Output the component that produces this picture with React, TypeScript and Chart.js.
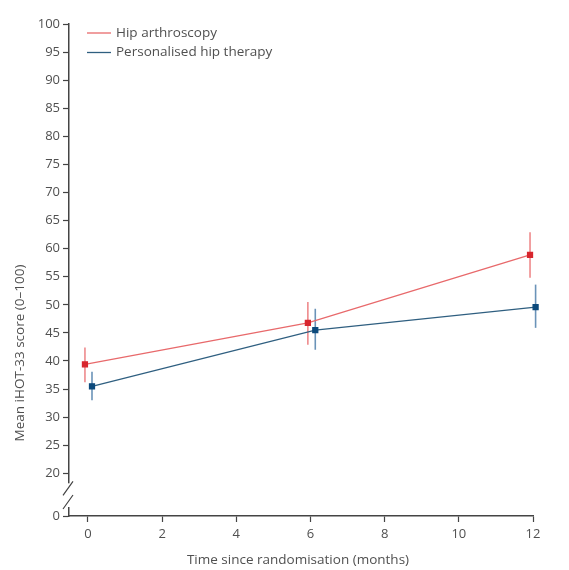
import React, { useEffect, useRef } from "react";
import { Chart, registerables } from "chart.js";

Chart.register(...registerables);

// ---- data ----
const xTicks = [0, 2, 4, 6, 8, 10, 12];
const yTicks = [20, 25, 30, 35, 40, 45, 50, 55, 60, 65, 70, 75, 80, 85, 90, 95, 100];
const Y_BREAK_MIN = 12.4; // internal position of the "0" tick below the axis break

const arthroscopyTime = [-0.08, 5.93, 11.92];
const arthroscopyMean = [39.4, 46.8, 58.9];
const arthroscopyLow = [36.2, 42.9, 54.8];
const arthroscopyHigh = [42.4, 50.5, 62.9];

const therapyTime = [0.11, 6.13, 12.07];
const therapyMean = [35.5, 45.5, 49.6];
const therapyLow = [33.0, 42.0, 45.9];
const therapyHigh = [38.1, 49.3, 53.6];

const seriesNames = ["Hip arthroscopy", "Personalised hip therapy"];
const xTitle = "Time since randomisation (months)";
const yTitle = "Mean iHOT-33 score (0–100)";

const RED_LINE = "#e8696b";
const RED_PT = "#d8262e";
const RED_ERR = "#ee8a8c";
const BLUE_LINE = "#2f5f80";
const BLUE_PT = "#0c4a7c";
const BLUE_ERR = "#6a93b8";
const AXIS = "#444444";
const TEXT = "#505050";
const FONT = "'Open Sans', sans-serif";

export default function App() {
  const ref = useRef<HTMLCanvasElement | null>(null);

  useEffect(() => {
    if (!ref.current) return;
    const errPlugin = {
      id: "errBars",
      beforeDatasetsDraw(chart: any) {
        const { ctx } = chart;
        const xs = chart.scales.x;
        const ys = chart.scales.y;
        const sets = [
          { t: arthroscopyTime, lo: arthroscopyLow, hi: arthroscopyHigh, c: RED_ERR },
          { t: therapyTime, lo: therapyLow, hi: therapyHigh, c: BLUE_ERR },
        ];
        ctx.save();
        for (const s of sets) {
          ctx.strokeStyle = s.c;
          ctx.lineWidth = 1.6;
          s.t.forEach((t, i) => {
            const x = xs.getPixelForValue(t);
            ctx.beginPath();
            ctx.moveTo(x, ys.getPixelForValue(s.lo[i]));
            ctx.lineTo(x, ys.getPixelForValue(s.hi[i]));
            ctx.stroke();
          });
        }
        ctx.restore();
      },
      afterDraw(chart: any) {
        const { ctx, chartArea } = chart;
        const ys = chart.scales.y;
        const x0 = chartArea.left;
        const y20 = ys.getPixelForValue(20);
        const y0 = ys.getPixelForValue(Y_BREAK_MIN);
        ctx.save();
        // axis break
        const gTop = y20 + 10;
        const gBot = y0 - 9;
        ctx.fillStyle = "#ffffff";
        ctx.fillRect(x0 - 3, gTop, 6, gBot - gTop);
        ctx.strokeStyle = AXIS;
        ctx.lineWidth = 1.2;
        ctx.beginPath();
        ctx.moveTo(x0 - 6, gTop + 12);
        ctx.lineTo(x0 + 4, gTop - 2);
        ctx.moveTo(x0 - 6, gBot + 2);
        ctx.lineTo(x0 + 4, gBot - 12);
        ctx.stroke();
        // legend
        const items = [
          { c: RED_LINE, t: seriesNames[0] },
          { c: BLUE_LINE, t: seriesNames[1] },
        ];
        ctx.font = `13.5px ${FONT}`;
        ctx.textBaseline = "middle";
        ctx.textAlign = "left";
        items.forEach((it, i) => {
          const y = 33 + i * 19.5;
          ctx.strokeStyle = it.c;
          ctx.lineWidth = 1.3;
          ctx.beginPath();
          ctx.moveTo(87, y);
          ctx.lineTo(111, y);
          ctx.stroke();
          ctx.fillStyle = TEXT;
          ctx.fillText(it.t, 116, y);
        });
        // titles
        ctx.font = `13.5px ${FONT}`;
        ctx.fillStyle = TEXT;
        ctx.textAlign = "center";
        ctx.fillText(xTitle, 298, 560);
        ctx.translate(20, 353);
        ctx.rotate(-Math.PI / 2);
        ctx.fillText(yTitle, 0, 0);
        ctx.restore();
      },
    };

    const chart = new Chart(ref.current, {
      type: "scatter",
      data: {
        datasets: [
          {
            label: seriesNames[0],
            data: arthroscopyTime.map((t, i) => ({ x: t, y: arthroscopyMean[i] })),
            showLine: true,
            borderColor: RED_LINE,
            borderWidth: 1.3,
            backgroundColor: RED_PT,
            pointBackgroundColor: RED_PT,
            pointBorderColor: RED_PT,
            pointStyle: "rect",
            pointRadius: 3.5,
            clip: false as any,
          },
          {
            label: seriesNames[1],
            data: therapyTime.map((t, i) => ({ x: t, y: therapyMean[i] })),
            showLine: true,
            borderColor: BLUE_LINE,
            borderWidth: 1.3,
            backgroundColor: BLUE_PT,
            pointBackgroundColor: BLUE_PT,
            pointBorderColor: BLUE_PT,
            pointStyle: "rect",
            pointRadius: 3.5,
            clip: false as any,
          },
        ],
      },
      options: {
        animation: false,
        responsive: false,
        layout: { padding: { left: 0, top: 24, right: 36, bottom: 0 } },
        plugins: { legend: { display: false }, tooltip: { enabled: false } },
        scales: {
          x: {
            type: "linear",
            min: -0.51,
            max: 12,
            afterBuildTicks: (s: any) => {
              s.ticks = xTicks.map((v) => ({ value: v }));
            },
            afterFit: (s: any) => {
              s.height = 54;
            },
            grid: { drawOnChartArea: false, color: AXIS, tickLength: 6, tickWidth: 1.2 },
            border: { color: AXIS, width: 1.5 },
            ticks: { color: TEXT, font: { family: FONT, size: 13 }, padding: 4, maxRotation: 0 },
          },
          y: {
            type: "linear",
            min: Y_BREAK_MIN,
            max: 100,
            afterBuildTicks: (s: any) => {
              s.ticks = [Y_BREAK_MIN, ...yTicks].map((v) => ({ value: v }));
            },
            afterFit: (s: any) => {
              s.width = 69;
            },
            grid: { drawOnChartArea: false, color: AXIS, tickLength: 6, tickWidth: 1.2 },
            border: { color: AXIS, width: 1.5 },
            ticks: {
              color: TEXT,
              font: { family: FONT, size: 13 },
              padding: 3,
              callback: (v: any) => (v === Y_BREAK_MIN ? "0" : String(v)),
            },
          },
        },
      },
      plugins: [errPlugin],
    });
    return () => chart.destroy();
  }, []);

  return (
    <div style={{ position: "absolute", left: 0, top: 0, width: 569, height: 570, background: "#fff" }}>
      <canvas ref={ref} width={569} height={570} style={{ display: "block" }} />
    </div>
  );
}
